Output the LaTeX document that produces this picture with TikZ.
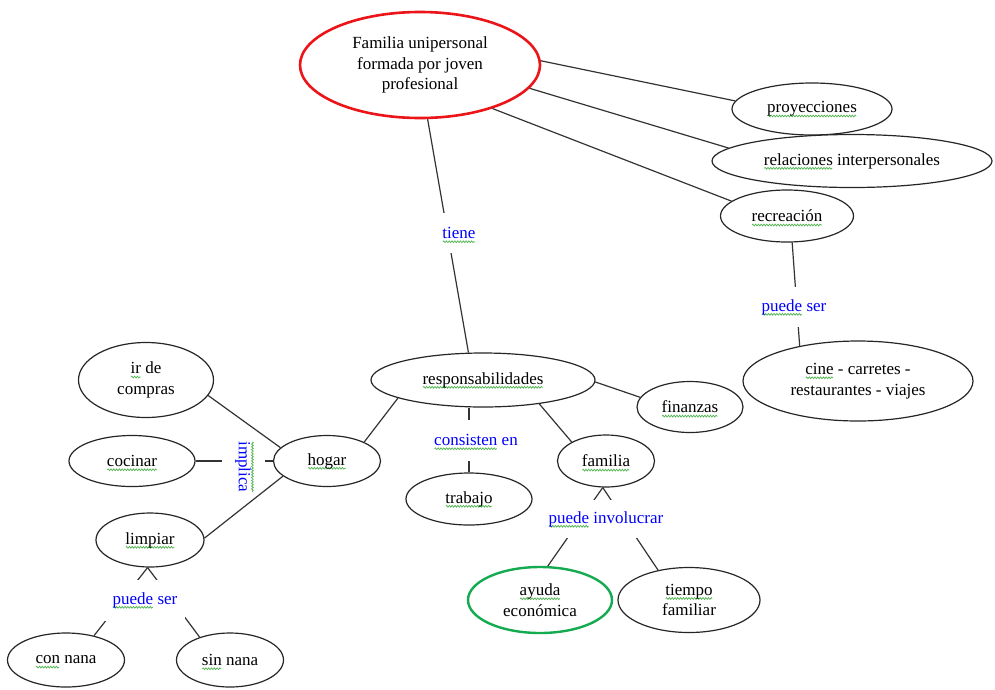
\documentclass[tikz,border=0pt]{standalone}
\usepackage{fontspec}
\setmainfont{Liberation Serif}
\usetikzlibrary{shapes.geometric,decorations.pathmorphing}
\definecolor{sqgreen}{RGB}{80,180,80}
\definecolor{nodered}{RGB}{235,20,25}
\definecolor{nodegreen}{RGB}{20,170,80}
\newsavebox\sqbox
\newcommand\wavedraw[1]{\tikz[overlay,baseline=0pt,x=1pt,y=1pt]\draw[sqgreen,line width=0.7pt,decorate,decoration={zigzag,amplitude=0.9pt,segment length=2.8pt}] (0.5,#1) -- (\wd\sqbox-0.5pt,#1);}
\newcommand\sq[1]{\sbox\sqbox{#1}\rlap{\wavedraw{-3.2}}\usebox\sqbox}
\newcommand\squp[1]{\sbox\sqbox{#1}\rlap{\wavedraw{13.5}}\usebox\sqbox}
\begin{document}
\begin{tikzpicture}[x=1pt,y=-1pt,
  ell/.style={ellipse,draw=black!85,line width=1.2pt,fill=white,inner sep=0pt,align=center,
    font=\fontsize{17}{20.5}\selectfont},
  lbl/.style={fill=white,inner sep=0pt,text=blue,font=\fontsize{17}{20.5}\selectfont},
  conn/.style={draw=black!80,line width=1.2pt}]
\useasboundingbox (0,0) rectangle (995,689);
% nodes
\node[ell,draw=nodered,line width=2.6pt,minimum width=240,minimum height=106] (top) at (420,65)
  {Familia unipersonal\\formada por joven\\profesional};
\node[ell,minimum width=160,minimum height=52] (proy) at (812,109) {\sq{proyecciones}};
\node[ell,minimum width=280,minimum height=53] (rel) at (852,161) {\sq{relaciones} interpersonales};
\node[ell,minimum width=133,minimum height=52] (rec) at (787,216) {\sq{recreación}};
\node[ell,minimum width=230,minimum height=80] (cine) at (858,381) {\sq{cine} - carretes -\\restaurantes - viajes};
\node[ell,minimum width=224,minimum height=54] (resp) at (483,380) {\sq{responsabilidades}};
\node[ell,minimum width=106,minimum height=51] (fin) at (690,407) {\sq{finanzas}};
\node[ell,minimum width=97,minimum height=52] (fam) at (606,461) {\sq{familia}};
\node[ell,minimum width=126,minimum height=52] (trab) at (469,499) {\sq{trabajo}};
\node[ell,minimum width=107,minimum height=51] (hogar) at (327,461) {\sq{hogar}};
\node[ell,minimum width=135,minimum height=75] (ir) at (146,380) {\sq{ir} de\\compras};
\node[ell,minimum width=126,minimum height=51] (coc) at (132,461) {\sq{cocinar}};
\node[ell,minimum width=108,minimum height=54] (limp) at (150,540) {\sq{limpiar}};
\node[ell,draw=nodegreen,line width=2.4pt,minimum width=144,minimum height=66] (ayuda) at (540,600) {\sq{ayuda}\\económica};
\node[ell,minimum width=142,minimum height=65] (tiempo) at (689,600) {\sq{tiempo}\\familiar};
\node[ell,minimum width=117,minimum height=54] (con) at (66,660) {\sq{con} nana};
\node[ell,minimum width=107,minimum height=54] (sin) at (230,660) {\sq{sin} nana};
% connectors
\draw[conn] (top.2) -- (proy.174);
\draw[conn] (top.-12) -- (rel.174);
\draw[conn] (top.-31) -- (rec.165);
\draw[conn] (top.-82) -- (resp.118);
\draw[conn] (rec.-79) -- (cine.149);
\draw[conn] (resp.-1) -- (fin.169);
\draw[conn] (resp.-23) -- (fam.151);
\draw[conn] (resp.192) -- (hogar.27);
\draw[conn] (trab.north) -- (trab.north |- resp.south);
\draw[conn] (coc.east) -- (hogar.west);
\draw[conn] (fam.-97) -- (ayuda.77);
\draw[conn] (fam.-97) -- (tiempo.136);
\draw[conn] (limp.-95) -- (con.41);
\draw[conn] (limp.-95) -- (sin.143);
% labels
\node[lbl,minimum width=40,minimum height=40] (ltiene) at (459,233) {\sq{tiene}};
\node[lbl,minimum width=70,minimum height=40] (lpsr) at (794,307) {\sq{puede} ser};
\node[lbl,minimum width=82,minimum height=41] (lcons) at (476,440) {\sq{consisten} en};
\node[lbl,rotate=-90,minimum width=52,minimum height=43] (limpl) at (243,467) {\squp{implica}};
\node[lbl,minimum width=116,minimum height=38] (linv) at (606,519) {\sq{puede} involucrar};
\node[lbl,minimum width=80,minimum height=41] (lps) at (145,600) {\sq{puede} ser};
% lines drawn over labels
\draw[conn] (ir.-14) -- (hogar.164);
\draw[conn] (limp.2) -- (hogar.199);
\end{tikzpicture}
\end{document}
